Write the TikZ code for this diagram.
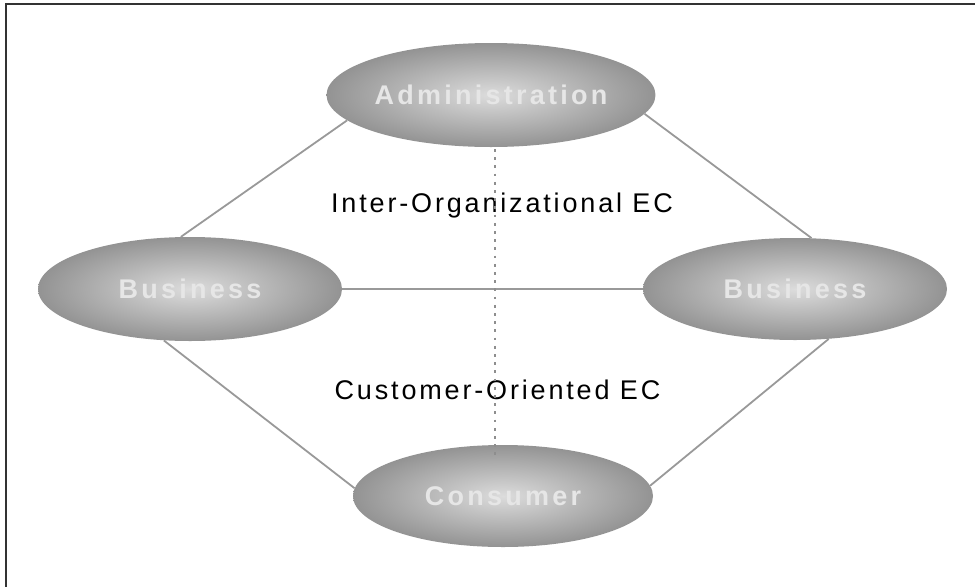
\documentclass[tikz,border=0pt]{standalone}
\usepackage{fontspec}
\setmainfont{Liberation Sans}
\newfontfamily\spacedfont[LetterSpace=10.5]{Liberation Sans}
\newfontfamily\spacedbold[LetterSpace=12]{Liberation Sans Bold}
\usetikzlibrary{shapes.geometric}
\definecolor{edgegray}{HTML}{999999}
\definecolor{dotgray}{HTML}{8E8E8E}
\definecolor{ellin}{HTML}{DCDCDC}
\definecolor{ellout}{HTML}{939393}
\definecolor{labelgray}{HTML}{E6E6E6}
\definecolor{framegray}{HTML}{333333}
\begin{document}
\begin{tikzpicture}[x=1pt,y=-1pt,
  party/.style={ellipse, inner sep=0pt, shading=radial, inner color=ellin, outer color=ellout,
    font=\spacedbold\fontsize{27}{31}\selectfont, text=labelgray},
  link/.style={draw=edgegray, line width=1.8pt},
  dotline/.style={draw=dotgray, line width=2.8pt, dash pattern=on 2.8pt off 5.4pt},
  caption/.style={font=\spacedfont\fontsize{27}{31}\selectfont, text=black, inner sep=0pt, anchor=base},
  frameline/.style={draw=framegray, line width=1.6pt}]
\useasboundingbox (0,0) rectangle (975,587);
\draw[frameline] (975,4) -- (6,4) -- (6,587);

\node[party, minimum width=302pt, minimum height=104pt] (adm) at (491,95) {Administration};
\node[party, minimum width=304pt, minimum height=104pt] (biz1) at (190,289) {Business};
\node[party, minimum width=304pt, minimum height=102pt] (biz2) at (795,289) {Business};
\node[party, minimum width=300pt, minimum height=102pt] (con) at (503,496) {Consumer};

\draw[link] (adm.190) -- (biz1.100);
\draw[link] (adm.-7) -- (biz2.72);
\draw[link] (biz1.east) -- (biz2.west);
\draw[link] (biz1.-117) -- (con.177);
\draw[link] (con.4) -- (biz2.-56);

\node[caption] (inter) at (502,212) {Inter-Organizational EC};
\node[caption] (cust) at (497.5,399) {Customer-Oriented EC};

\coordinate (dtop) at (495,149);
\coordinate (dbot) at (495,459);
\draw[dotline] (dtop) -- (dbot);
\end{tikzpicture}
\end{document}
